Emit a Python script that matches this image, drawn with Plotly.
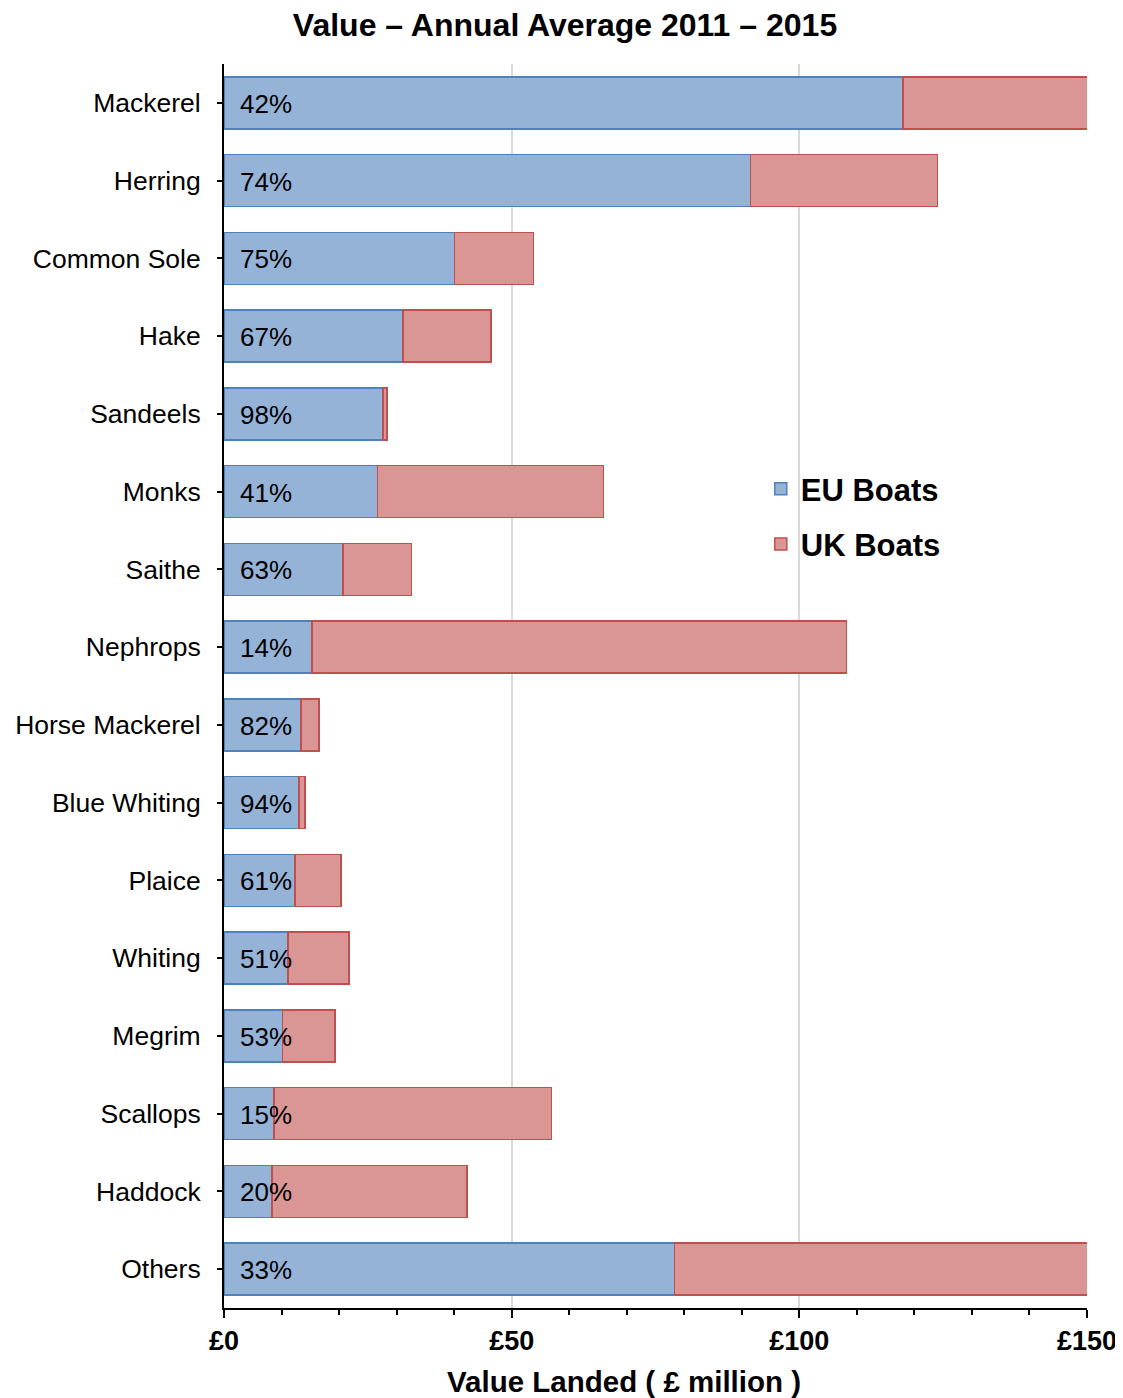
import plotly.graph_objects as go

species = ["Mackerel", "Herring", "Common Sole", "Hake", "Sandeels", "Monks", "Saithe",
           "Nephrops", "Horse Mackerel", "Blue Whiting", "Plaice", "Whiting", "Megrim",
           "Scallops", "Haddock", "Others"]
eu_boats = [118.0, 91.5, 40.1, 31.1, 27.6, 26.7, 20.7, 15.3, 13.4, 13.0, 12.3, 11.1, 10.2, 8.7, 8.3, 78.3]
uk_boats = [163.0, 32.5, 13.7, 15.3, 0.7, 39.3, 11.9, 92.9, 3.1, 1.1, 8.0, 10.6, 9.1, 48.2, 33.9, 159.0]
eu_share = ["42%", "74%", "75%", "67%", "98%", "41%", "63%", "14%", "82%", "94%",
            "61%", "51%", "53%", "15%", "20%", "33%"]
x_ticks = [0, 50, 100, 150]
x_tick_labels = ["£0", "£50", "£100", "£150"]

FONT = "Liberation Sans, Arial, sans-serif"

fig = go.Figure()
fig.add_trace(go.Bar(y=species, x=eu_boats, orientation="h", name="<b>EU Boats</b>",
                     legendgroup="eu",
                     marker=dict(color="#95B3D7", line=dict(color="#4F81BD", width=1.5))))
fig.add_trace(go.Bar(y=species, x=uk_boats, orientation="h", name="<b>UK Boats</b>",
                     legendgroup="uk",
                     marker=dict(color="#D99694", line=dict(color="#C0504D", width=1.5))))

for s, p in zip(species, eu_share):
    fig.add_annotation(x=0, y=s, text=p, xref="x", yref="y", xanchor="left",
                       xshift=14, yshift=-1, showarrow=False,
                       font=dict(family=FONT, size=26, color="black"))

fig.add_annotation(x=0.463, y=0, xref="paper", yref="paper", yshift=-73,
                   xanchor="center", yanchor="middle", showarrow=False,
                   text="<b>Value Landed ( £ million )</b>",
                   font=dict(family=FONT, size=29.5, color="black"))

fig.update_layout(
    barmode="stack",
    bargap=0.33,
    width=1123, height=1398,
    paper_bgcolor="white", plot_bgcolor="white",
    margin=dict(l=216, r=44, t=56, b=98, autoexpand=False),
    title=dict(text="<b>Value – Annual Average 2011 – 2015</b>", x=0.496, xanchor="center",
               y=1 - 17 / 1398, yanchor="middle", font=dict(family=FONT, size=32, color="black")),
    legend=dict(x=0.622, y=0.68, xanchor="left", yanchor="top", bgcolor="rgba(0,0,0,0)",
                font=dict(family=FONT, size=31, color="black"), traceorder="grouped",
                tracegroupgap=12),
    showlegend=True,
)
fig.update_xaxes(range=[0, 150], tickvals=x_ticks, ticktext=[f"<b>{t}</b>" for t in x_tick_labels],
                 showgrid=True, gridcolor="#D9D9D9", gridwidth=1.5,
                 showline=True, linecolor="black", linewidth=2,
                 ticks="outside", ticklen=8, tickwidth=2, tickcolor="black",
                 minor=dict(dtick=10, ticks="outside", ticklen=5, tickwidth=1.5, tickcolor="black", showgrid=False),
                 tickfont=dict(family=FONT, size=27, color="black"),
                 zeroline=False, fixedrange=True, automargin=False)
fig.update_yaxes(autorange="reversed", showline=True, linecolor="black", linewidth=2,
                 ticks="outside", ticklen=5, tickwidth=1.5, tickcolor="black",
                 tickfont=dict(family=FONT, size=26.5, color="black"), ticklabelstandoff=11,
                 showgrid=False, automargin=False)

fig.write_html("out.html")
